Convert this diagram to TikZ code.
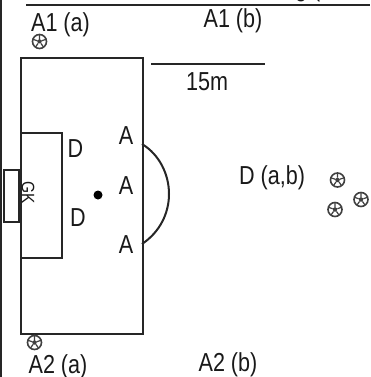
\documentclass[tikz,border=0pt]{standalone}
\usepackage{fontspec}
\setmainfont{Liberation Sans}
\tikzset{
  x=1pt,y=-1pt,
  ln/.style={draw=black!85,line width=2pt},
  lab/.style={font=\fontsize{26}{26}\selectfont,text=black!90,inner sep=0pt,xscale=0.83,transform shape},
  ball/.pic={
    \draw[black!75,line width=1.6pt,fill=white] (0,0) circle (7pt);
    \fill[black!75] (0,-2.5)--(2.4,-0.8)--(1.5,2)--(-1.5,2)--(-2.4,-0.8)--cycle;
    \draw[black!75,line width=1.2pt] (0,-2.5)--(0,-7) (2.4,-0.8)--(6.7,-2.2) (1.5,2)--(4.1,5.7) (-1.5,2)--(-4.1,5.7) (-2.4,-0.8)--(-6.7,-2.2);
  }
}
\begin{document}
\begin{tikzpicture}
\useasboundingbox (0,0) rectangle (370,377);
\clip (0,0) rectangle (370,377);
\coordinate (L1) at (1,0); \coordinate (L2) at (1,377);
\draw[ln] (L1)--(L2);
\coordinate (T1) at (26,5.5); \coordinate (T2) at (370,5.5);
\draw[ln] (T1)--(T2);
\coordinate (M1) at (151,64.5); \coordinate (M2) at (265,64.5);
\draw[ln] (M1)--(M2);
\node[ln,minimum width=122pt,minimum height=275pt,inner sep=0pt,anchor=north west] (field) at (20,57.5) {};
\node[ln,minimum width=41pt,minimum height=125pt,inner sep=0pt,anchor=north west] (box) at (20,132) {};
\node[ln,minimum width=15pt,minimum height=52pt,inner sep=0pt,anchor=north east] (goal) at (20,168.5) {};
\coordinate (arcA) at (142,144); \coordinate (arcB) at (142,244);
\draw[ln] (arcA) .. controls (160,155) and (169,175) .. (169,194) .. controls (169,213) and (160,232) .. (arcB);
\node[circle,fill=black,minimum size=9pt,inner sep=0pt] (dot) at (98,195) {};
\node[lab,anchor=base west] (top) at (295,-3) {g (};
\node[lab] (a1a) at (60.5,25) {A1 (a)};
\node[lab] (a1b) at (233,21) {A1 (b)};
\node[lab] (m) at (207,82) {15m};
\node[lab] (d1) at (75.5,148.5) {D};
\node[lab] (d2) at (78,217.5) {D};
\node[lab] (aa1) at (126,136) {A};
\node[lab] (aa2) at (126,186) {A};
\node[lab] (aa3) at (126,245) {A};
\node[font=\fontsize{18}{18}\selectfont,text=black!90,inner sep=0pt,rotate=-90,xscale=0.86] (gk) at (28,193) {GK};
\node[lab] (dab) at (272,178) {D (a,b)};
\node[lab] (a2a) at (58,367) {A2 (a)};
\node[lab] (a2b) at (228,365) {A2 (b)};
\pic at (39.5,41.5) {ball};
\pic at (34.5,342.5) {ball};
\pic at (337.5,180) {ball};
\pic at (361,199.5) {ball};
\pic at (335,209.5) {ball};
\end{tikzpicture}
\end{document}
